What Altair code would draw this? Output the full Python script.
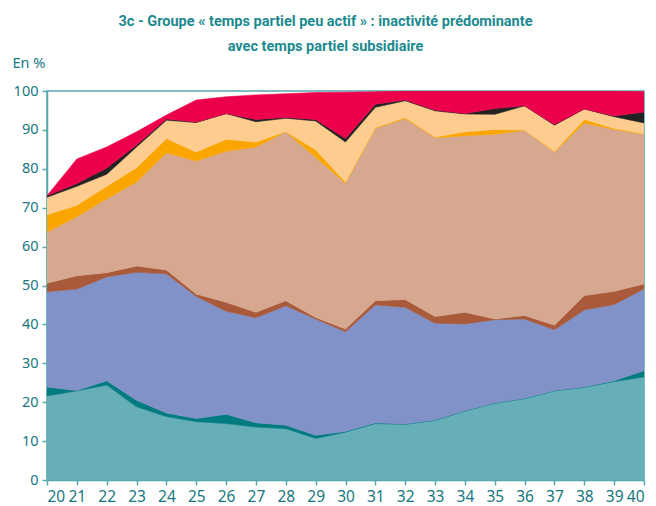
import altair as alt
import pandas as pd

ages = list(range(20, 41))

teal = [21.6, 22.9, 24.4, 18.8, 16.3, 15.0, 14.5, 13.6, 13.2, 10.7, 12.3, 14.5, 14.3, 15.3, 17.7, 19.7, 20.9, 22.9, 23.8, 25.3, 26.5]
dark_teal = [2.3, 0.1, 1.1, 1.7, 0.9, 0.8, 2.4, 1.1, 0.9, 0.8, 0.2, 0.2, 0.1, 0.1, 0.1, 0.1, 0.1, 0.1, 0.1, 0.2, 1.6]
blue = [24.5, 26.1, 26.7, 32.9, 35.8, 31.4, 26.5, 27.0, 30.7, 29.9, 25.6, 30.3, 30.0, 24.9, 22.3, 21.4, 20.4, 15.6, 19.8, 19.6, 21.0]
brown = [2.2, 3.4, 1.1, 1.6, 1.0, 0.6, 2.3, 1.4, 1.3, 0.4, 0.7, 1.1, 2.0, 1.7, 3.0, 0.2, 0.9, 1.2, 3.7, 3.4, 1.3]
tan = [13.1, 15.2, 19.0, 21.6, 30.1, 34.2, 38.8, 42.5, 43.4, 41.2, 37.5, 44.3, 46.5, 46.0, 45.4, 47.5, 47.6, 44.5, 44.4, 41.6, 38.5]
orange = [4.5, 2.9, 3.2, 3.7, 3.7, 2.3, 3.1, 1.3, 0.1, 1.9, 0.3, 0.2, 0.3, 0.2, 1.0, 1.2, 0.1, 0.2, 0.9, 0.3, 0.1]
yellow = [4.5, 4.9, 3.1, 5.3, 4.7, 7.6, 6.6, 5.2, 3.4, 7.4, 10.3, 5.2, 4.3, 6.7, 4.6, 3.9, 6.2, 6.7, 2.7, 3.0, 2.8]
black = [0.4, 0.7, 1.6, 0.5, 0.3, 0.1, 0.0, 0.6, 0.2, 0.4, 0.9, 0.8, 0.2, 0.2, 0.1, 1.5, 0.0, 0.2, 0.0, 0.2, 2.8]
red = [0.0, 6.3, 5.4, 3.4, 1.0, 5.7, 4.3, 6.3, 6.1, 6.9, 11.9, 3.2, 2.3, 4.9, 5.8, 4.5, 3.9, 8.6, 4.6, 6.4, 5.3]

names = ["Série 1", "Série 2", "Série 3", "Série 4", "Série 5", "Série 6", "Série 7", "Série 8", "Série 9"]
colors = ["#66afb8", "#007b80", "#8192c8", "#a85a3a", "#d6a890", "#fba600", "#fecc8e", "#222222", "#ec004c"]
series_values = [teal, dark_teal, blue, brown, tan, orange, yellow, black, red]

rows = []
for k, (name, vals) in enumerate(zip(names, series_values)):
    for a, v in zip(ages, vals):
        rows.append({"age": a, "serie": name, "k": k, "v": v})
df = pd.DataFrame(rows)

axis_col = "#55a8ad"
label_col = "#177780"

chart = alt.Chart(df).mark_area(interpolate="linear", strokeWidth=0.6, clip=True).encode(
    x=alt.X("age:Q", scale=alt.Scale(domain=[20, 40], nice=False, zero=False),
            axis=alt.Axis(values=ages, format="d", title=None, grid=False,
                          domainColor=axis_col, domainWidth=1.5, tickColor=axis_col,
                          tickSize=5, tickWidth=1.5, labelColor=label_col, labelFontSize=15.5,
                          labelFont="Noto Sans", labelPadding=4)),
    y=alt.Y("v:Q", stack="zero", scale=alt.Scale(domain=[0, 100], nice=False),
            axis=alt.Axis(values=list(range(0, 101, 10)), title="En %", titleAngle=0,
                          titleX=-35, titleY=-28, titleAlign="left", titleBaseline="middle",
                          titleFont="Noto Sans", titleFontSize=14.5, titleFontWeight="normal",
                          titleColor=label_col, grid=False,
                          domainColor=axis_col, domainWidth=1.5, tickColor=axis_col,
                          tickSize=5, tickWidth=1.5, labelColor=label_col, labelFontSize=14.5,
                          labelFont="Noto Sans", labelPadding=4)),
    color=alt.Color("serie:N", scale=alt.Scale(domain=names, range=colors), legend=None),
    stroke=alt.Stroke("serie:N", scale=alt.Scale(domain=names, range=colors), legend=None),
    order=alt.Order("k:Q", sort="ascending"),
).properties(
    width=597, height=389,
    autosize=alt.AutoSizeParams(type="none"),
    padding={"left": 39, "top": 83, "right": 4, "bottom": 26},
    title=alt.Title(
        ["3c - Groupe « temps partiel peu actif » : inactivité prédominante",
         "avec temps partiel subsidiaire"],
        font="Roboto",
        fontSize=14.5, fontWeight="bold", color="#1b8a8f", anchor="middle", dx=-20,
        offset=36, dy=35, lineHeight=25),
).configure_view(stroke=axis_col, strokeWidth=1.5)

chart.save("out.html", embed_options={"renderer": "svg", "actions": False})
